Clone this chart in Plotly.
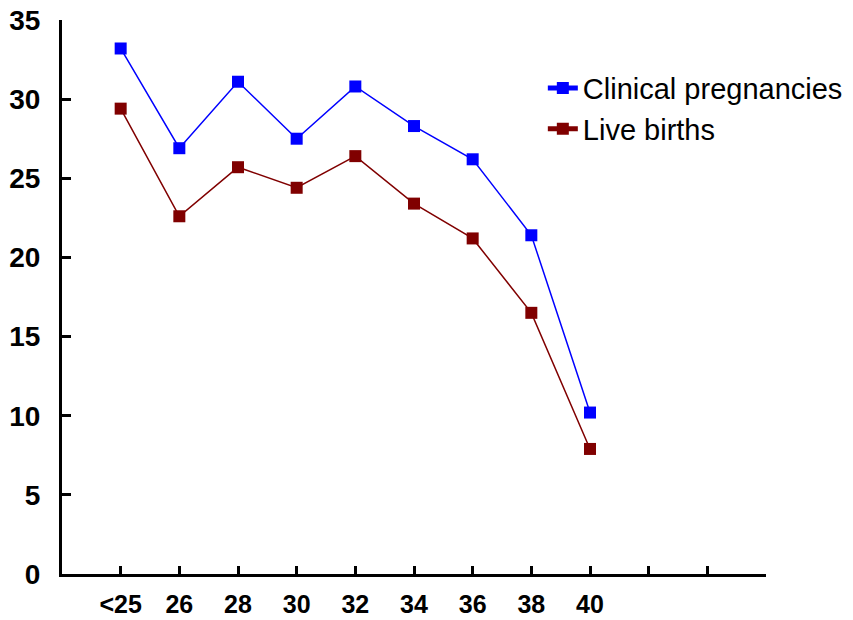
import plotly.graph_objects as go

# Female age groups (x axis) and outcome rates per group
age_labels = ["<25", "26", "28", "30", "32", "34", "36", "38", "40"]
clinical_pregnancies = [33.2, 26.9, 31.1, 27.5, 30.8, 28.3, 26.2, 21.4, 10.2]
live_births = [29.4, 22.6, 25.7, 24.4, 26.4, 23.4, 21.2, 16.5, 7.9]

# Two empty slots follow the last age group on the axis
n_slots = len(age_labels) + 3
positions = list(range(len(age_labels)))
tick_positions = list(range(n_slots))
tick_text = age_labels + [""] * (n_slots - len(age_labels))

fig = go.Figure()
fig.add_trace(go.Scatter(
    x=positions, y=clinical_pregnancies, name="Clinical pregnancies",
    mode="lines+markers",
    line=dict(color="#0000FF", width=1.5),
    marker=dict(symbol="square", size=12, color="#0000FF"),
))
fig.add_trace(go.Scatter(
    x=positions, y=live_births, name="Live births",
    mode="lines+markers",
    line=dict(color="#800000", width=1.5),
    marker=dict(symbol="square", size=12, color="#800000"),
))

fig.update_layout(
    width=853, height=620,
    margin=dict(l=62, r=87, t=20, b=46, autoexpand=False),
    paper_bgcolor="white", plot_bgcolor="white",
    font=dict(family="Liberation Sans, Arial, sans-serif", color="black"),
    showlegend=True,
    legend=dict(
        x=0.683, y=0.923, xanchor="left", yanchor="top",
        bgcolor="rgba(0,0,0,0)",
        font=dict(size=29, color="black"),
        itemsizing="constant",
    ),
)

fig.update_xaxes(
    range=[-1, n_slots - 1], automargin=False,
    tickmode="array", tickvals=tick_positions, ticktext=tick_text,
    showgrid=False, zeroline=False,
    showline=True, linecolor="black", linewidth=3,
    ticks="inside", ticklen=8, tickwidth=2.5, tickcolor="black",
    tickfont=dict(size=25, family="Liberation Sans, Arial, sans-serif", weight="bold"),
    ticklabelstandoff=6,
)
fig.update_yaxes(
    range=[0, 35], dtick=5, tick0=0, automargin=False,
    showgrid=False, zeroline=False,
    showline=True, linecolor="black", linewidth=3,
    ticks="inside", ticklen=9, tickwidth=2.5, tickcolor="black",
    tickfont=dict(size=28, family="Liberation Sans, Arial, sans-serif", weight="bold"),
    ticklabelstandoff=13,
)

fig.write_html("out.html")
